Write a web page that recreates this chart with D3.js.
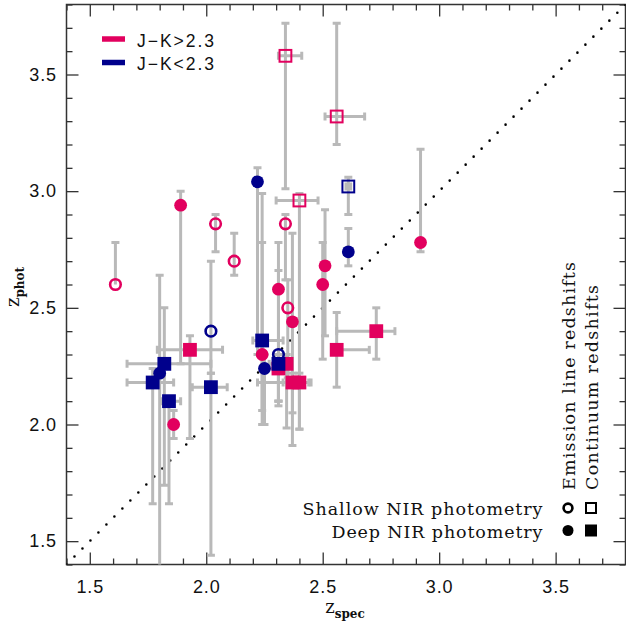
<!DOCTYPE html>
<html>
<head>
<meta charset="utf-8">
<script src="https://cdn.jsdelivr.net/npm/d3@7"></script>
<style>
  body { margin: 0; background: #fff; }
</style>
</head>
<body>
<svg id="chart" width="626" height="622"></svg>
<script>
// each point: [zspec, zphot, zspecLo, zspecHi, zphotLo, zphotHi]
var redShallowEmission = [
  [1.61, 2.60, 1.61, 1.61, 2.60, 2.78],
  [2.04, 2.86, 2.04, 2.04, 2.74, 2.90],
  [2.12, 2.70, 2.12, 2.12, 2.64, 2.82],
  [2.34, 2.86, 2.34, 2.34, 2.62, 2.90],
  [2.35, 2.50, 2.35, 2.35, 2.20, 2.62]
];
var redShallowContinuum = [
  [2.34, 3.58, 2.31, 2.41, 3.01, 3.72],
  [2.56, 3.32, 2.51, 2.68, 3.20, 3.72],
  [2.40, 2.96, 2.30, 2.48, 1.98, 2.99]
];
var redDeepEmission = [
  [1.89, 2.94, 1.89, 1.89, 2.26, 3.00],
  [1.86, 2.00, 1.86, 1.86, 1.94, 2.06],
  [2.24, 2.30, 2.24, 2.24, 2.00, 2.99],
  [2.31, 2.58, 2.31, 2.31, 2.10, 2.78],
  [2.37, 2.44, 2.37, 2.37, 1.91, 2.82],
  [2.51, 2.68, 2.51, 2.51, 2.38, 2.92],
  [2.50, 2.60, 2.50, 2.50, 2.28, 2.78],
  [2.92, 2.78, 2.92, 2.92, 2.74, 3.18]
];
var redDeepContinuum = [
  [1.93, 2.32, 1.79, 2.07, 1.94, 2.38],
  [2.56, 2.32, 2.56, 2.70, 2.16, 2.48],
  [2.73, 2.40, 2.56, 2.81, 2.28, 2.50],
  [2.31, 2.24, 2.25, 2.35, 2.10, 2.30],
  [2.345, 2.26, 2.345, 2.345, 1.985, 2.30],
  [2.37, 2.18, 2.22, 2.44, 2.05, 2.22],
  [2.40, 2.18, 2.33, 2.45, 1.98, 2.22]
];
var blueShallowEmission = [
  [2.02, 2.40, 2.02, 2.02, 2.22, 2.70],
  [2.31, 2.30, 2.31, 2.31, 2.10, 2.66]
];
var blueShallowContinuum = [
  [2.61, 3.02, 2.60, 2.62, 2.90, 3.06]
];
var blueDeepEmission = [
  [2.22, 3.04, 2.22, 2.22, 2.30, 3.10],
  [2.61, 2.74, 2.61, 2.61, 2.68, 2.84],
  [1.80, 2.22, 1.80, 1.80, 1.30, 2.64],
  [2.25, 2.24, 2.25, 2.25, 2.00, 2.30]
];
var blueDeepContinuum = [
  [1.77, 2.18, 1.66, 1.86, 1.66, 2.24],
  [1.82, 2.26, 1.66, 2.02, 1.74, 2.50],
  [1.84, 2.10, 1.81, 1.89, 1.66, 2.12],
  [2.02, 2.16, 1.94, 2.09, 1.44, 2.22],
  [2.24, 2.36, 2.20, 2.33, 2.06, 2.78],
  [2.31, 2.26, 2.27, 2.35, 2.08, 2.30]
];

var colourNames = ["J\u2212K>2.3", "J\u2212K<2.3"];
var depthNames = ["Shallow NIR photometry", "Deep NIR photometry"];
var typeNames = ["Emission line redshifts", "Continuum redshifts"];
var majorTicks = [1.5, 2.0, 2.5, 3.0, 3.5];
var axisDomain = [1.4, 3.8];

var pink = "#e2005e",
    navy = "#00008c",
    grey = "#b9b9b9";

var svg = d3.select("#chart"),
    plotLeft = 66.5, plotTop = 4.5, plotRight = 625.5, plotBottom = 564.5;

var x = d3.scaleLinear().domain(axisDomain).range([plotLeft, plotRight]);
var y = d3.scaleLinear().domain(axisDomain).range([plotBottom, plotTop]);

var minorTicks = d3.range(14, 39).map(function(d) { return d / 10; })
  .filter(function(d) { return majorTicks.indexOf(d) < 0; });

svg.append("defs").append("clipPath").attr("id", "plotclip")
  .append("rect")
    .attr("x", plotLeft).attr("y", plotTop)
    .attr("width", plotRight - plotLeft).attr("height", plotBottom - plotTop);

// ticks on all four sides, pointing inward
function styleAxis(g) {
  g.select(".domain").remove();
  g.selectAll(".tick line").attr("stroke", "#333").attr("stroke-width", 1.3);
  g.selectAll("text")
    .attr("fill", "#111")
    .attr("font-family", "'Liberation Sans', Arial, sans-serif")
    .attr("font-size", 18)
    .attr("letter-spacing", 0.9);
}

svg.append("g").attr("transform", "translate(0," + plotBottom + ")")
  .call(d3.axisBottom(x).tickValues(majorTicks).tickSize(-12).tickPadding(16).tickFormat(d3.format(".1f")))
  .call(styleAxis);
svg.append("g").attr("transform", "translate(0," + plotBottom + ")")
  .call(d3.axisBottom(x).tickValues(minorTicks).tickSize(-6).tickFormat(""))
  .call(styleAxis);
svg.append("g").attr("transform", "translate(0," + plotTop + ")")
  .call(d3.axisTop(x).tickValues(majorTicks).tickSize(-12).tickFormat(""))
  .call(styleAxis);
svg.append("g").attr("transform", "translate(0," + plotTop + ")")
  .call(d3.axisTop(x).tickValues(minorTicks).tickSize(-6).tickFormat(""))
  .call(styleAxis);
svg.append("g").attr("transform", "translate(" + plotLeft + ",0)")
  .call(d3.axisLeft(y).tickValues(majorTicks).tickSize(-12).tickPadding(9.5).tickFormat(d3.format(".1f")))
  .call(styleAxis);
svg.append("g").attr("transform", "translate(" + plotLeft + ",0)")
  .call(d3.axisLeft(y).tickValues(minorTicks).tickSize(-6).tickFormat(""))
  .call(styleAxis);
svg.append("g").attr("transform", "translate(" + plotRight + ",0)")
  .call(d3.axisRight(y).tickValues(majorTicks).tickSize(-12).tickFormat(""))
  .call(styleAxis);
svg.append("g").attr("transform", "translate(" + plotRight + ",0)")
  .call(d3.axisRight(y).tickValues(minorTicks).tickSize(-6).tickFormat(""))
  .call(styleAxis);

svg.append("rect")
  .attr("x", plotLeft).attr("y", plotTop)
  .attr("width", plotRight - plotLeft).attr("height", plotBottom - plotTop)
  .attr("fill", "none").attr("stroke", "#333").attr("stroke-width", 1.5);

var plot = svg.append("g").attr("clip-path", "url(#plotclip)");

// one-to-one line
plot.append("line")
  .attr("x1", x(axisDomain[0])).attr("y1", y(axisDomain[0]))
  .attr("x2", x(axisDomain[1])).attr("y2", y(axisDomain[1]))
  .attr("stroke", "#000").attr("stroke-width", 2.6)
  .attr("stroke-linecap", "round").attr("stroke-dasharray", "0,11.3");

var series = [
  {data: redShallowEmission, colour: pink, shape: "circle", filled: false},
  {data: redShallowContinuum, colour: pink, shape: "square", filled: false},
  {data: redDeepEmission, colour: pink, shape: "circle", filled: true},
  {data: redDeepContinuum, colour: pink, shape: "square", filled: true},
  {data: blueShallowEmission, colour: navy, shape: "circle", filled: false},
  {data: blueShallowContinuum, colour: navy, shape: "square", filled: false},
  {data: blueDeepEmission, colour: navy, shape: "circle", filled: true},
  {data: blueDeepContinuum, colour: navy, shape: "square", filled: true}
];

// error bars first, all grey
var errs = plot.append("g").attr("stroke", grey).attr("stroke-width", 3).attr("fill", "none");
var cap = 4;
series.forEach(function(s) {
  s.data.forEach(function(d) {
    var px = x(d[0]), py = y(d[1]);
    if (d[4] < d[5]) {
      errs.append("line").attr("x1", px).attr("x2", px).attr("y1", y(d[4])).attr("y2", y(d[5]));
      if (d[4] < d[1]) errs.append("line").attr("x1", px - cap).attr("x2", px + cap).attr("y1", y(d[4])).attr("y2", y(d[4]));
      if (d[5] > d[1]) errs.append("line").attr("x1", px - cap).attr("x2", px + cap).attr("y1", y(d[5])).attr("y2", y(d[5]));
    }
    if (d[2] < d[3]) {
      errs.append("line").attr("y1", py).attr("y2", py).attr("x1", x(d[2])).attr("x2", x(d[3]));
      if (d[2] < d[0]) errs.append("line").attr("y1", py - cap).attr("y2", py + cap).attr("x1", x(d[2])).attr("x2", x(d[2]));
      if (d[3] > d[0]) errs.append("line").attr("y1", py - cap).attr("y2", py + cap).attr("x1", x(d[3])).attr("x2", x(d[3]));
    }
  });
});

function drawMarker(g, shape, filled, colour, cx, cy, size) {
  if (shape === "circle") {
    g.append("circle").attr("cx", cx).attr("cy", cy)
      .attr("r", filled ? size / 2 : size / 2 - 1.1)
      .attr("fill", filled ? colour : "none")
      .attr("stroke", filled ? "none" : colour)
      .attr("stroke-width", 2.6);
  } else {
    var s = filled ? size + 1 : size - 1;
    g.append("rect").attr("x", cx - s / 2).attr("y", cy - s / 2)
      .attr("width", s).attr("height", s)
      .attr("fill", filled ? colour : "none")
      .attr("stroke", filled ? "none" : colour)
      .attr("stroke-width", 2);
  }
}

var marks = plot.append("g");
series.forEach(function(s) {
  s.data.forEach(function(d) {
    drawMarker(marks, s.shape, s.filled, s.colour, x(d[0]), y(d[1]), 12.8);
  });
});

// colour legend, top left
var serif = "'DejaVu Serif', serif";
[pink, navy].forEach(function(c, i) {
  var ly = 39 + i * 23.5;
  svg.append("line").attr("x1", 102).attr("x2", 125).attr("y1", ly).attr("y2", ly)
    .attr("stroke", c).attr("stroke-width", 5.5);
  svg.append("text").attr("x", 137).attr("y", ly + 7.5)
    .attr("font-family", "'Liberation Sans', Arial, sans-serif").attr("font-size", 17.5)
    .attr("fill", "#111").attr("textLength", 77).attr("lengthAdjust", "spacing")
    .text(colourNames[i]);
});

// symbol legend, bottom right
var depthY = [508, 530.5], depthLen = [240, 211];
depthNames.forEach(function(name, i) {
  svg.append("text").attr("x", 542.5).attr("y", depthY[i] + 7)
    .attr("text-anchor", "end").attr("font-family", serif).attr("font-size", 17.5)
    .attr("fill", "#111").attr("textLength", depthLen[i]).attr("lengthAdjust", "spacing")
    .text(name);
  drawMarker(svg, "circle", i === 1, "#000", 568, depthY[i], 11);
  drawMarker(svg, "square", i === 1, "#000", 591, depthY[i], 11);
});
var typeX = [575, 598], typeLen = [228, 205];
typeNames.forEach(function(name, i) {
  svg.append("text")
    .attr("transform", "translate(" + typeX[i] + ",490) rotate(-90)")
    .attr("font-family", serif).attr("font-size", 17.5).attr("fill", "#111")
    .attr("textLength", typeLen[i]).attr("lengthAdjust", "spacing")
    .text(name);
});

// axis titles
var xt = svg.append("text").attr("x", 345).attr("y", 613).attr("text-anchor", "middle")
  .attr("font-family", serif).attr("font-size", 18).attr("fill", "#111");
xt.append("tspan").text("z");
xt.append("tspan").attr("dy", 5).attr("font-size", 12).attr("font-weight", "bold").text("spec");

var yt = svg.append("text").attr("transform", "translate(19,287) rotate(-90)").attr("text-anchor", "middle")
  .attr("font-family", serif).attr("font-size", 18).attr("fill", "#111");
yt.append("tspan").text("z");
yt.append("tspan").attr("dy", 5).attr("font-size", 12).attr("font-weight", "bold").text("phot");
</script>
</body>
</html>
